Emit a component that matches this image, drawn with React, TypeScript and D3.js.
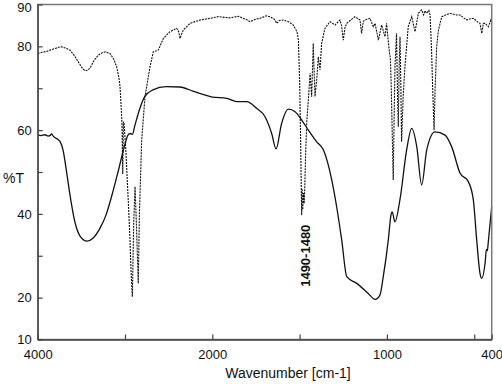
import React, { useEffect, useRef } from "react";
import * as d3 from "d3";

// [wavenumber cm-1, %T]
const solidSpectrum: [number, number][] = [
  [4000, 58.8], [3960, 58.7], [3920, 58.9], [3880, 58.6], [3859, 58.7], [3840, 59.1],
  [3820, 58.5], [3802, 58.2], [3770, 57.8], [3745, 57.3], [3710, 55.3], [3676, 51],
  [3630, 44.5], [3573, 38], [3515, 34.7], [3435, 33.5], [3367, 34.2], [3286, 36.6],
  [3218, 39.7], [3149, 44.5], [3080, 50], [3012, 55.7], [2966, 58.8], [2940, 59.2],
  [2915, 59], [2886, 61.2], [2828, 65.3], [2771, 68.1], [2680, 69.6], [2530, 70.4],
  [2370, 70.3], [2221, 69.3], [2100, 68.5], [2000, 67.9], [1917, 67.6], [1860, 66.8],
  [1803, 66.8], [1746, 65.2], [1698, 63.2], [1660, 59.2], [1635, 55.5], [1603, 61.6],
  [1565, 65.0], [1526, 64.4], [1488, 62.4], [1450, 60], [1402, 57.2], [1364, 55.3],
  [1316, 48.1], [1288, 41.7], [1259, 33.8], [1230, 25], [1173, 23.4], [1107, 21],
  [1068, 19.6], [1040, 20.6], [1021, 25], [992, 33.8], [977, 39.7], [970, 40.5],
  [954, 38.1], [925, 43.5], [887, 55.3], [858, 60.4], [829, 56], [801, 46.9],
  [772, 55.3], [725, 59.6], [667, 58.8], [629, 56], [581, 49.7], [534, 47.7],
  [505, 43.3], [486, 33.8], [467, 25.8], [457, 24.6], [438, 28.2], [430, 31.5],
  [425, 31.2], [419, 33.5], [400, 41.7],
];

const dashedSpectrum: [number, number][] = [
  [4000, 78.3], [3950, 78.6], [3900, 78.8], [3859, 79.1], [3800, 79.5], [3760, 79.8],
  [3725, 79.9], [3680, 79.6], [3630, 79.1], [3580, 77.8], [3535, 76.3], [3490, 74.8],
  [3458, 74.2], [3430, 74.3], [3401, 74.8], [3350, 76.8], [3306, 77.9], [3260, 78.5],
  [3229, 78.7], [3172, 78.3], [3130, 77], [3095, 75.1], [3070, 72.5], [3057, 70.4],
  [3040, 64], [3034, 61], [3026, 49.5], [3018, 62], [3010, 61.5], [2990, 55],
  [2960, 42], [2943, 33.8], [2930, 26], [2916, 20.2], [2900, 38], [2885, 46.5],
  [2870, 38], [2848, 23.4], [2835, 40], [2809, 57.6], [2771, 68], [2714, 75.1],
  [2676, 78.7], [2619, 79.1], [2561, 81.9], [2485, 83.5], [2408, 84.3], [2385, 83.5],
  [2370, 81.9], [2350, 83], [2332, 83.9], [2255, 85.5], [2140, 86.3], [2026, 86.7],
  [1966, 87.1], [1900, 86.8], [1850, 87.2], [1800, 86.3], [1784, 85.9], [1750, 86.5],
  [1727, 86.7], [1690, 87.3], [1670, 87.1], [1645, 86.5], [1631, 85.5], [1615, 86.2],
  [1593, 86.3], [1560, 85.8], [1536, 85.1], [1515, 83.5], [1507, 81.5], [1500, 72],
  [1495, 60], [1490, 45], [1488, 39.7], [1485, 46], [1482, 41], [1478, 45],
  [1474, 42.5], [1470, 47], [1465, 55], [1459, 62], [1450, 67.2], [1440, 73.6],
  [1431, 68], [1422, 80.7], [1412, 68], [1402, 72], [1393, 77.5], [1383, 74.4],
  [1374, 80.7], [1355, 84.3], [1326, 85.9], [1297, 85.1], [1269, 86.3], [1260, 85],
  [1250, 81.5], [1240, 84.5], [1230, 85.5], [1183, 87.1], [1154, 86.3], [1145, 83.1],
  [1135, 86], [1126, 86.3], [1097, 86.7], [1078, 84.7], [1068, 85.5], [1049, 81.5],
  [1030, 85.1], [1011, 82.3], [1002, 85.5], [987, 79], [980, 77], [975, 70],
  [970, 60], [964, 48.1], [958, 65], [954, 75.1], [945, 83.1], [940, 70],
  [935, 60.8], [930, 75], [925, 82.3], [920, 70], [916, 57.2], [907, 68],
  [897, 75.1], [878, 84.7], [858, 87.1], [839, 83.5], [820, 87.9], [801, 88.7],
  [790, 87.5], [782, 88.5], [772, 87.9], [760, 88.6], [753, 87.5], [745, 80],
  [738, 70], [730, 60], [724, 70], [715, 80], [705, 83.9], [686, 87.1],
  [639, 87.9], [600, 87.5], [581, 87.5], [560, 86.8], [543, 86.3], [520, 86.6],
  [505, 86.7], [480, 85.8], [467, 85.5], [457, 83.1], [448, 85.5], [438, 85.5],
  [419, 84.7], [405, 86.3], [400, 85.6],
];

const xTicks = [4000, 3000, 2000, 1500, 1000, 500, 400];
const xTickLabels = [4000, 2000, 1000, 400];
const yTicks = [10, 20, 30, 40, 50, 60, 70, 80, 90];
const yTickLabels = [10, 20, 40, 60, 80, 90];

const peakLabel = "1490-1480";
const peakLabelAt: [number, number] = [1488, 30];

const width = 502;
const height = 384;
const left = 37.7;
const right = 491.7;
const top = 4.5;
const bottom = 339.5;
const font = "Liberation Sans, Arial, Helvetica, sans-serif";

export default function App() {
  const ref = useRef<SVGSVGElement>(null);

  useEffect(() => {
    const svg = d3.select(ref.current);
    svg.selectAll("*").remove();

    // wavenumber axis is compressed above 2000 cm-1
    const x = d3.scaleLinear().domain([4000, 2000, 400]).range([left, 212.3, right]);
    const y = d3.scaleLinear().domain([10, 90]).range([bottom, top]);

    const line = d3
      .line<[number, number]>()
      .x(d => x(d[0]))
      .y(d => y(d[1]));

    svg
      .append("path")
      .datum(dashedSpectrum)
      .attr("fill", "none")
      .attr("stroke", "#111")
      .attr("stroke-width", 1.1)
      .attr("stroke-dasharray", "2,1")
      .attr("d", line);

    svg
      .append("path")
      .datum(solidSpectrum)
      .attr("fill", "none")
      .attr("stroke", "#111")
      .attr("stroke-width", 1.3)
      .attr("d", line.curve(d3.curveMonotoneX));

    // frame
    svg
      .append("rect")
      .attr("x", left)
      .attr("y", top)
      .attr("width", right - left)
      .attr("height", bottom - top)
      .attr("fill", "none")
      .attr("stroke", "#777")
      .attr("stroke-width", 1.5);

    const xAxis = svg
      .append("g")
      .attr("transform", `translate(0,${bottom})`)
      .call(
        d3
          .axisBottom(x)
          .tickValues(xTicks)
          .tickSizeInner(-5)
          .tickSizeOuter(0)
          .tickPadding(10)
          .tickFormat(d => (xTickLabels.includes(+d) ? String(d) : ""))
      );

    const yAxis = svg
      .append("g")
      .attr("transform", `translate(${left},0)`)
      .call(
        d3
          .axisLeft(y)
          .tickValues(yTicks)
          .tickSizeInner(-5)
          .tickSizeOuter(0)
          .tickPadding(6)
          .tickFormat(d => (yTickLabels.includes(+d) ? String(d) : ""))
      );

    [xAxis, yAxis].forEach(g => {
      g.select(".domain").attr("stroke", "#444").attr("stroke-width", 1.3);
      g.selectAll(".tick line").attr("stroke", "#444").attr("stroke-width", 1.2);
      g.selectAll("text")
        .attr("font-family", font)
        .attr("font-size", 13)
        .attr("fill", "#111");
    });

    // keep the top label inside the page
    yAxis
      .selectAll<SVGTextElement, number>(".tick text")
      .filter(d => d === 90)
      .attr("dy", "0.32em")
      .attr("y", 3);

    svg
      .append("text")
      .attr("x", 288)
      .attr("y", 378)
      .attr("text-anchor", "middle")
      .attr("font-family", font)
      .attr("font-size", 14)
      .attr("fill", "#111")
      .text("Wavenumber [cm-1]");

    svg
      .append("text")
      .attr("x", 3)
      .attr("y", 183)
      .attr("font-family", font)
      .attr("font-size", 14)
      .attr("fill", "#111")
      .text("%T");

    svg
      .append("text")
      .attr(
        "transform",
        `translate(${x(peakLabelAt[0]) + 8},${y(peakLabelAt[1])}) rotate(-90)`
      )
      .attr("text-anchor", "middle")
      .attr("font-family", font)
      .attr("font-size", 13)
      .attr("font-weight", "bold")
      .attr("fill", "#111")
      .text(peakLabel);
  }, []);

  return (
    <svg
      ref={ref}
      width={width}
      height={height}
      style={{ position: "absolute", left: 0, top: 0, background: "#fff" }}
    />
  );
}
